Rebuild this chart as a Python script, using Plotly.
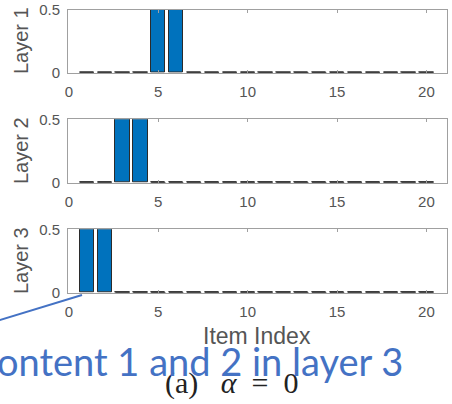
import plotly.graph_objects as go

# Item indices and the activation of each item in every layer
items = list(range(1, 21))
layer1 = [0, 0, 0, 0, 0.5, 0.5, 0, 0, 0, 0, 0, 0, 0, 0, 0, 0, 0, 0, 0, 0]
layer2 = [0, 0, 0.5, 0.5, 0, 0, 0, 0, 0, 0, 0, 0, 0, 0, 0, 0, 0, 0, 0, 0]
layer3 = [0.5, 0.5, 0, 0, 0, 0, 0, 0, 0, 0, 0, 0, 0, 0, 0, 0, 0, 0, 0, 0]
layer_names = ["Layer 1", "Layer 2", "Layer 3"]
x_ticks = [0, 5, 10, 15, 20]
y_ticks = [0, 0.5]

W, H = 452, 404
BAR_W = 0.8
BAR_COLOR = "#0072BD"
EDGE = "#2b2b2b"
FRAME = "#a0a0a0"
TICK_FONT = dict(family="Liberation Sans, Arial, sans-serif", size=15, color="#555555")

# pixel boxes (top, bottom) of the three panels
panels = [(9.5, 72.7), (119.3, 182.7), (229.3, 292.7)]
x_left, x_right = 68, 447

fig = go.Figure()
for k, vals in enumerate([layer1, layer2, layer3]):
    ax = "" if k == 0 else str(k + 1)
    # non-zero items as outlined bars
    fig.add_trace(go.Bar(
        x=items, y=vals, width=BAR_W,
        marker=dict(color=BAR_COLOR, line=dict(color=EDGE, width=1)),
        xaxis="x" + ax, yaxis="y" + ax, showlegend=False,
    ))
    # zero-valued items collapse to their outline on the baseline
    zx, zy = [], []
    for i, v in zip(items, vals):
        if v == 0:
            zx += [i - BAR_W / 2, i + BAR_W / 2, None]
            zy += [v, v, None]
    fig.add_trace(go.Scatter(
        x=zx, y=zy, mode="lines", line=dict(color=EDGE, width=1.6),
        xaxis="x" + ax, yaxis="y" + ax, showlegend=False, hoverinfo="skip",
        cliponaxis=False,
    ))

layout = dict(
    width=W, height=H,
    margin=dict(l=0, r=0, t=0, b=0, autoexpand=False),
    paper_bgcolor="white", plot_bgcolor="white",
    bargap=0, showlegend=False,
)
for k, (top, bot) in enumerate(panels):
    ax = "" if k == 0 else str(k + 1)
    layout["xaxis" + ax] = dict(
        domain=[x_left / W, x_right / W], range=[-0.05, 21.15],
        anchor="y" + ax, tickvals=x_ticks, ticks="inside", ticklen=3,
        tickcolor=FRAME, showline=True, linecolor=FRAME, linewidth=1,
        mirror="ticks", showgrid=False, zeroline=False, tickfont=TICK_FONT,
        ticklabelstandoff=5, automargin=False,
    )
    layout["yaxis" + ax] = dict(
        domain=[1 - bot / H, 1 - top / H], range=[0, 0.5],
        anchor="x" + ax, tickvals=y_ticks, ticktext=["0", "0.5"],
        ticks="inside", ticklen=3, tickcolor=FRAME, showline=True,
        linecolor=FRAME, linewidth=1, mirror="ticks", showgrid=False,
        zeroline=False, tickfont=TICK_FONT, ticklabelstandoff=4,
        automargin=False,
    )
fig.update_layout(**layout)

annotations = []
for k, (top, bot) in enumerate(panels):
    annotations.append(dict(
        text=layer_names[k], x=21 / W, y=1 - (top + bot) / 2 / H,
        xref="paper", yref="paper", showarrow=False, textangle=-90,
        xanchor="center", yanchor="middle",
        font=dict(family="Liberation Sans, Arial, sans-serif", size=20, color="#555555"),
    ))
annotations.append(dict(
    text="Item Index", x=257 / W, y=1 - 336 / H, xref="paper", yref="paper",
    showarrow=False, xanchor="center", yanchor="middle",
    font=dict(family="Liberation Sans, Arial, sans-serif", size=23, color="#555555"),
))
annotations.append(dict(
    text="(a)\u2002 <i>\u03b1</i>\u2002=\u20020",
    x=163 / W, y=1 - 383 / H,
    xref="paper", yref="paper", showarrow=False, xanchor="left", yanchor="middle",
    font=dict(family="Liberation Serif, Times New Roman, serif", size=30, color="#222222"),
))
annotations.append(dict(
    text="Content 1 and 2 in layer 3", x=405 / W, y=1 - 361 / H,
    xref="paper", yref="paper", showarrow=False, xanchor="right", yanchor="middle",
    font=dict(family="Lato, Open Sans, sans-serif", size=38, color="#4472C4"),
))
fig.update_layout(annotations=annotations)

# leader line from the callout to the first item of layer 3
fig.add_shape(type="line", xref="paper", yref="paper",
              x0=-20 / W, y0=1 - 326 / H, x1=82 / W, y1=1 - 295 / H,
              line=dict(color="#4472C4", width=2))

fig.write_html("out.html")
